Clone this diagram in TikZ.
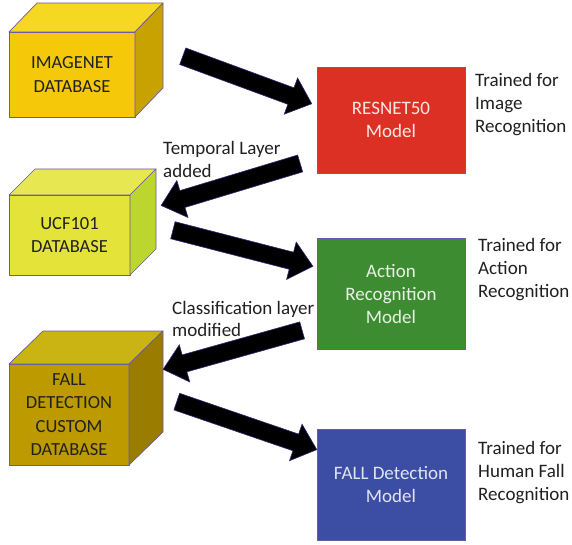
\documentclass[tikz,border=0pt]{standalone}
\usepackage{fontspec}
\setmainfont{Carlito}
\usetikzlibrary{shapes.arrows,calc}

\definecolor{goldfront}{HTML}{F5C90A}
\definecolor{goldtop}{HTML}{F6D822}
\definecolor{goldside}{HTML}{C8A200}
\definecolor{limefront}{HTML}{E3E33A}
\definecolor{limetop}{HTML}{E7E752}
\definecolor{limeside}{HTML}{BCD62F}
\definecolor{olivefront}{HTML}{BC9A00}
\definecolor{olivetop}{HTML}{C9B414}
\definecolor{oliveside}{HTML}{9A7D00}
\definecolor{resnetred}{HTML}{DD3024}
\definecolor{actiongreen}{HTML}{3E8C31}
\definecolor{fallblue}{HTML}{3C4EA3}
\definecolor{edgeviolet}{HTML}{6A5AA8}
\definecolor{arrowedge}{HTML}{2E2A7A}
\definecolor{inktext}{HTML}{202020}

\tikzset{
  labelfont/.style={font=\fontsize{19}{23}\selectfont},
  cubefont/.style={font=\fontsize{18.5}{23.3}\selectfont},
  cubeedge/.style={draw=edgeviolet, line width=0.7pt, line join=round},
  cubefront/.style={cubeedge, rectangle, inner sep=0pt, outer sep=0pt,
    align=center, text=inktext, cubefont},
  modelbox/.style={draw=edgeviolet, line width=0.7pt, rectangle, inner sep=0pt,
    outer sep=0pt, minimum width=148pt, align=center, labelfont},
  sidenote/.style={anchor=west, inner sep=0pt, align=left, text=inktext, labelfont},
  bigarrow/.style={single arrow, fill=black, draw=arrowedge, line width=0.6pt,
    inner sep=0pt, outer sep=0pt, minimum width=0pt,
    single arrow head extend=10.5pt, single arrow tip angle=82,
    single arrow head indent=0pt}
}

% top and right faces of a database cube whose front face is node #1
\newcommand\cubefaces[5]{%
  \filldraw[cubeedge, fill=#4] (#1.north west) -- ++(#2,-#3)
    -- ($(#1.north east)+(#2,-#3)$) -- (#1.north east) -- cycle;
  \filldraw[cubeedge, fill=#5] (#1.north east) -- ++(#2,-#3)
    -- ($(#1.south east)+(#2,-#3)$) -- (#1.south east) -- cycle;
}

% thick block arrow between two named coordinates
\newcommand\blockarrow[2]{%
  \path let \p1=($(#2)-(#1)$), \n1={atan2(\y1,\x1)}, \n2={veclen(\x1,\y1)} in
    node[bigarrow, rotate=\n1, minimum height=\n2] at ($(#1)!0.5!(#2)$)
      {\rule{0pt}{17pt}};
}

\begin{document}
\begin{tikzpicture}[x=1pt, y=-1pt]
\useasboundingbox (0,0) rectangle (572,545);

% databases
\node[cubefront, fill=goldfront, minimum width=126pt, minimum height=85pt]
  (imagenet) at (72,74.5) {IMAGENET\\DATABASE};
\cubefaces{imagenet}{28}{29}{goldtop}{goldside}

\node[cubefront, fill=limefront, minimum width=121pt, minimum height=80pt]
  (ucf) at (69.5,235) {UCF101\\DATABASE};
\cubefaces{ucf}{26}{26}{limetop}{limeside}

\node[cubefront, fill=olivefront, minimum width=120pt, minimum height=101pt]
  (falldb) at (69,414.5) {FALL\\DETECTION\\CUSTOM\\DATABASE};
\cubefaces{falldb}{34}{33}{olivetop}{oliveside}

% models
\node[modelbox, fill=resnetred, minimum height=106pt, text=white!88!resnetred]
  (resnet) at (391,120) {RESNET50\\Model};
\node[modelbox, fill=actiongreen, minimum height=111pt, text=white!88!actiongreen]
  (action) at (391,293.5) {Action\\Recognition\\Model};
\node[modelbox, fill=fallblue, minimum height=111pt, text=white!85!fallblue]
  (fallmodel) at (391,484.5) {FALL Detection\\Model};

% notes beside the models
\node[sidenote] (noteresnet) at (475,104.5) {Trained for\\Image\\Recognition};
\node[sidenote] (noteaction) at (478,269.5) {Trained for\\Action\\Recognition};
\node[sidenote] (notefall) at (478,472.5) {Trained for\\Human Fall\\Recognition};

% transfer steps
\node[sidenote] (temporal) at (163,159) {Temporal Layer\\added};
\node[sidenote, font=\fontsize{19}{22}\selectfont] (classif) at (172,318.5)
  {Classification layer\\modified};

% arrow end points
\coordinate (a1s) at (178,54.5);  \coordinate (a1e) at (307,102);
\coordinate (a2s) at (305,162);   \coordinate (a2e) at (166,204);
\coordinate (a3s) at (168,229);   \coordinate (a3e) at (308,265);
\coordinate (a4s) at (307,329);   \coordinate (a4e) at (168,368);
\coordinate (a5s) at (172,400);   \coordinate (a5e) at (312,448);

\blockarrow{a1s}{a1e}
\blockarrow{a2s}{a2e}
\blockarrow{a3s}{a3e}
\blockarrow{a4s}{a4e}
\blockarrow{a5s}{a5e}
\end{tikzpicture}
\end{document}
